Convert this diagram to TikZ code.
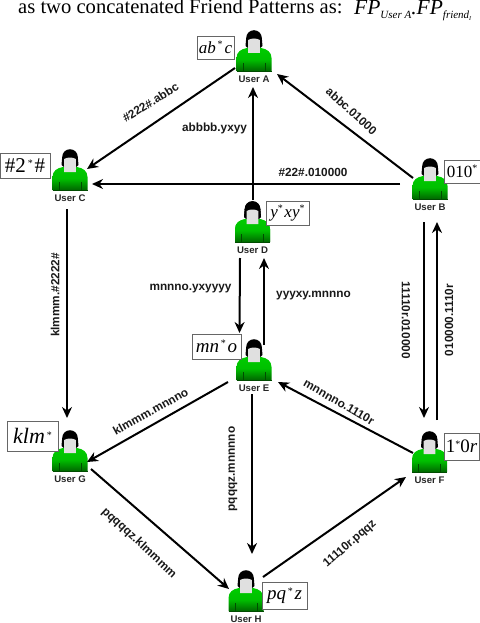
\documentclass[tikz,border=0pt]{standalone}
\usepackage{fontspec}
\setmainfont{Liberation Serif}
\newfontfamily\lblfont{Liberation Sans}
\usetikzlibrary{arrows.meta}
\newcommand{\st}{\hspace{1.8pt}\raisebox{5.5pt}{\fontsize{10}{10}\selectfont\upshape *}\hspace{1.8pt}}
\newcommand{\stt}{\raisebox{5.5pt}{\fontsize{10}{10}\selectfont\upshape *}}
\tikzset{
  x=1pt,y=-1pt,
  usrnode/.style={inner sep=0pt,minimum width=38pt,minimum height=50pt,outer sep=0pt},
  usrname/.style={font=\lblfont\bfseries\fontsize{9.6}{10}\selectfont,inner sep=0pt,text=black!85},
  pattern/.style={draw=black!60,line width=0.5pt,fill=white,inner sep=0pt,font=\itshape\fontsize{18.5}{19}\selectfont},
  edge/.style={line width=2pt,-{Stealth[length=11pt,width=10pt]}},
  elabel/.style={font=\lblfont\bfseries\fontsize{11.8}{12}\selectfont,inner sep=0pt,text=black!90},
  pics/usricon/.style={code={
    \fill[black] (0,-33) circle[radius=7.8];
    \fill[black] (-7.8,-33) -- (-8.5,-25) -- (-5,-22) -- (-5,-33) -- cycle;
    \fill[black] (7.8,-33) -- (8.5,-25) -- (5,-22) -- (5,-33) -- cycle;
    \shade[top color=green!80!black,bottom color=green!40!black,middle color=green!75!black]
      (-17.5,0) -- (-17.5,-13) .. controls (-17.5,-19) and (-13,-22) .. (-7,-23) -- (7,-23) .. controls (13,-22) and (17.5,-19) .. (17.5,-13) -- (17.5,0) -- cycle;
    \draw[green!30!black,line width=0.5pt] (-17.5,0) -- (17.5,0) (-11,-8) -- (-11,0) (11,-8) -- (11,0);
    \fill[black!12] (-5.8,-31) .. controls (-3,-33) and (3,-33) .. (5.8,-31) -- (5.8,-18) -- (-5.8,-18) -- cycle;
  }}
}
\newcommand{\usr}[4]{% name, x, bottom y, text
  \pic at (#2,#3) {usricon};
  \node[usrname] at (#2,#3+8.5) {#4};
  \node[usrnode] (#1) at (#2,#3-14) {};
}
\begin{document}
\begin{tikzpicture}
\useasboundingbox (0,0) rectangle (479,623);
\node[anchor=base west,inner sep=0pt,font=\fontsize{20.6}{22}\selectfont] (title) at (18,14) {as two concatenated Friend Patterns as:};
\node[anchor=base west,inner sep=0pt,font=\itshape\fontsize{21.5}{22}\selectfont] (formula) at (354,15) {FP\raisebox{-4pt}{\fontsize{11}{11}\selectfont User A}.FP\raisebox{-4pt}{\fontsize{11}{11}\selectfont friend\raisebox{-1.5pt}{\fontsize{6}{6}\selectfont I}}};
\usr{uA}{254}{71}{User A}
\usr{uB}{430}{199}{User B}
\usr{uC}{70}{190}{User C}
\usr{uD}{252.5}{242}{User D}
\usr{uE}{254}{380}{User E}
\usr{uF}{429.5}{472}{User F}
\usr{uG}{70}{471}{User G}
\usr{uH}{246}{611}{User H}
\draw[edge] ([shift={(-19,11)}]uA.center) -- ([shift={(17,-7)}]uC.center);
\draw[edge] ([shift={(-30,-1)}]uB.center) -- ([shift={(22,8)}]uC.center);
\draw[edge] ([shift={(-17,-7)}]uB.center) -- ([shift={(23,17)}]uA.center);
\draw[edge] ([shift={(0.5,-28)}]uD.center) -- ([shift={(-1,30)}]uA.center);
\draw[edge] ([shift={(-12.5,30)}]uD.center) -- ([shift={(-14.5,-33)}]uE.center);
\draw[edge] ([shift={(10,-21)}]uE.center) -- ([shift={(11.5,30)}]uD.center);
\draw[edge] ([shift={(-26,16)}]uE.center) -- ([shift={(17,5)}]uG.center);
\draw[edge] ([shift={(-2,28)}]uE.center) -- ([shift={(6,-43)}]uH.center);
\draw[edge] ([shift={(-16.5,-5)}]uF.center) -- ([shift={(24,16)}]uE.center);
\draw[edge] ([shift={(-6,37)}]uB.center) -- ([shift={(-5.5,-40)}]uF.center);
\draw[edge] ([shift={(7.5,-38)}]uF.center) -- ([shift={(7,37)}]uB.center);
\draw[edge] ([shift={(21,12)}]uG.center) -- ([shift={(-17,-8)}]uH.center);
\draw[edge] ([shift={(17,-20)}]uH.center) -- ([shift={(-23.5,19)}]uF.center);
\draw[edge] ([shift={(-3,33)}]uC.center) -- ([shift={(-3,-39)}]uG.center);
\pic at (252.5,242) {usricon};
\node[elabel,rotate=32] (l1) at (150.5,102.5) {\#222\#.abbc};
\node[elabel,rotate=-42] (l2) at (351.5,111) {abbc.01000};
\node[elabel] (l3) at (214.5,128) {abbbb.yxyy};
\node[elabel] (l4) at (313,172) {\#22\#.010000};
\node[elabel,rotate=90] (l5) at (55,295) {klmmm.\#2222\#};
\node[elabel] (l6) at (190.5,289) {mnnno.yxyyyy};
\node[elabel] (l7) at (313.5,296) {yyyxy.mnnno};
\node[elabel,rotate=-90] (l8) at (406,320) {11110r.010000};
\node[elabel,rotate=90] (l9) at (449,320) {010000.1110r};
\node[elabel,rotate=-30] (l10) at (339,402) {mnnnno.1110r};
\node[elabel,rotate=29] (l11) at (150.5,411.5) {klmmm.mnnno};
\node[elabel,rotate=90] (l12) at (233,469) {pqqqz.mnnnno};
\node[elabel,rotate=-43] (l13) at (139,543) {pqqqqz.klmmmm};
\node[elabel,rotate=41] (l14) at (350,544) {11110r.pqqz};
\node[pattern,minimum width=37pt,minimum height=23pt,font=\itshape\fontsize{17}{17}\selectfont] (pa) at (215.5,47.5) {ab\st c};
\node[pattern,minimum width=36pt,minimum height=23pt,font=\fontsize{17}{17}\selectfont] (pb) at (462,171.5) {010\stt};
\node[pattern,minimum width=50pt,minimum height=25pt,font=\fontsize{21}{21}\selectfont] (pc) at (25,165.5) {\#2\st\#};
\node[pattern,minimum width=43pt,minimum height=24pt,font=\itshape\fontsize{17}{17}\selectfont] (pd) at (287.5,213) {y\stt\hspace{1.5pt}xy\stt};
\node[pattern,minimum width=49pt,minimum height=25pt,font=\itshape\fontsize{19}{19}\selectfont] (pe) at (216.5,346.5) {mn\st o};
\node[pattern,minimum width=35pt,minimum height=27pt,font=\fontsize{19}{19}\selectfont] (pf) at (461.5,446.5) {1\stt 0\textit{r}};
\node[pattern,minimum width=51pt,minimum height=30pt,font=\itshape\fontsize{22}{22}\selectfont] (pg) at (32.5,436) {klm\st};
\node[pattern,minimum width=45pt,minimum height=27pt,font=\itshape\fontsize{19}{19}\selectfont] (ph) at (284.5,595.5) {pq\st z};
\end{tikzpicture}
\end{document}
